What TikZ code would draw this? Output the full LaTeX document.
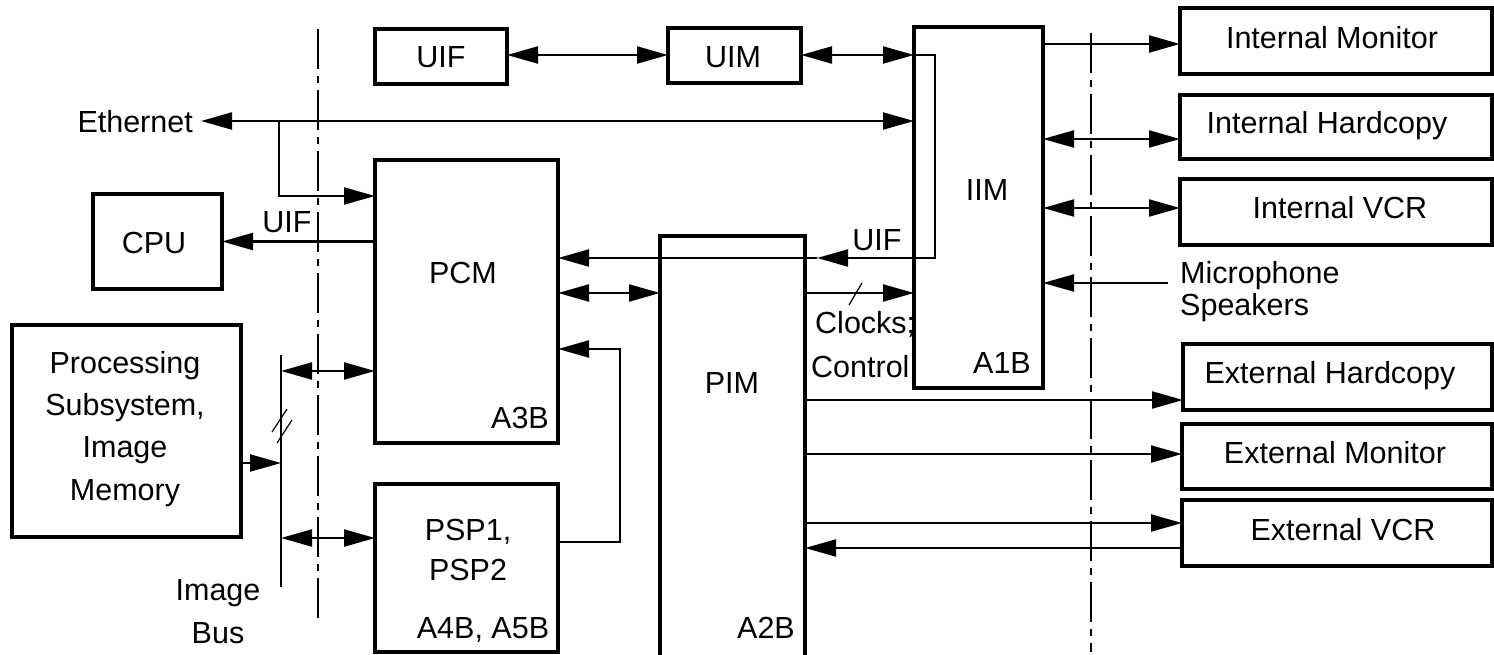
\documentclass[tikz,border=0pt]{standalone}
\usepackage{fontspec}
\setmainfont{Liberation Sans}
\usetikzlibrary{arrows.meta}
\begin{document}
\begin{tikzpicture}[x=1pt,y=-1pt,
  every node/.style={font=\fontsize{30.5}{36}\selectfont},
  box/.style={draw, line width=4.5pt, inner sep=0pt, outer sep=0pt},
  conn/.style={line width=2.2pt},
  arr/.style={conn, -{Triangle[length=31pt,width=17pt]}},
  darr/.style={conn, {Triangle[length=31pt,width=17pt]}-{Triangle[length=31pt,width=17pt]}},
  lbl/.style={inner sep=0pt, anchor=base},
  lbll/.style={inner sep=0pt, anchor=base west},
  cutline/.style={line width=2.4pt, dash pattern=on 40pt off 7pt on 7pt off 7pt},
  tick/.style={line width=1.2pt}]
\clip (0,0) rectangle (1494,654);
\fill[white] (0,0) rectangle (1494,654);

% helper levels
\foreach \yy in {44,55,139,196,208,293,349,371,400,454,463,523,538,542,548}{\coordinate (L\yy) at (0,\yy);}

% cut lines
\coordinate (dla) at (318,29); \coordinate (dlb) at (318,618);
\coordinate (dra) at (1091,33); \coordinate (drb) at (1091,652);
\draw[cutline] (dla) -- (dlb);
\draw[cutline] (dra) -- (drb);

% boxes
\node[box, minimum width=132pt, minimum height=55pt] (uifb) at (441,56.5) {};
\node[box, minimum width=133pt, minimum height=55pt] (uim) at (734.5,55.5) {};
\node[box, minimum width=129pt, minimum height=361pt] (iim) at (978.5,207.5) {};
\node[box, minimum width=312pt, minimum height=66pt] (intmon) at (1336,41) {};
\node[box, minimum width=312pt, minimum height=64pt] (inthc) at (1336,127) {};
\node[box, minimum width=312pt, minimum height=66pt] (intvcr) at (1336,212) {};
\node[box, minimum width=309pt, minimum height=66pt] (exthc) at (1337.5,377) {};
\node[box, minimum width=310pt, minimum height=65pt] (extmon) at (1337,456.5) {};
\node[box, minimum width=310pt, minimum height=66pt] (extvcr) at (1337,533) {};
\node[box, minimum width=183pt, minimum height=283pt] (pcm) at (466.5,301.5) {};
\node[box, minimum width=183pt, minimum height=168pt] (psp) at (466.5,568) {};
\node[box, minimum width=129pt, minimum height=95pt] (cpu) at (157.5,241.5) {};
\node[box, minimum width=229pt, minimum height=212pt] (proc) at (126.5,431) {};
\node[inner sep=0pt, outer sep=0pt, minimum width=145pt, minimum height=440pt] (pim) at (732.5,456) {};
\draw[line width=4.5pt] (pim.south west) -- (pim.north west) -- (pim.north east) -- (pim.south east);

% labels
\node[lbl] (tuif) at (441,67) {UIF};
\node[lbl] (tuim) at (733,67) {UIM};
\node[lbl] (tiim) at (987,200) {IIM};
\node[lbl] (ta1b) at (1002,373) {A1B};
\node[lbl] (tintmon) at (1332,48) {Internal Monitor};
\node[lbl] (tinthc) at (1327,133) {Internal Hardcopy};
\node[lbl] (tintvcr) at (1340,218) {Internal VCR};
\node[lbll] (tmic) at (1180,283) {Microphone};
\node[lbll] (tspk) at (1180,315) {Speakers};
\node[lbl] (texthc) at (1330,383) {External Hardcopy};
\node[lbl] (textmon) at (1335,463) {External Monitor};
\node[lbl] (textvcr) at (1343,540) {External VCR};
\node[inner sep=0pt, anchor=base east] (eth) at (193,132) {Ethernet};
\node[lbl] (tcpu) at (154,253) {CPU};
\node[lbl] (tuifc) at (287,232) {UIF};
\node[lbl] (tpcm) at (463,283) {PCM};
\node[lbl] (ta3b) at (520,428) {A3B};
\node[lbl] (tpsp1) at (468,540) {PSP1,};
\node[lbl] (tpsp2) at (468,580) {PSP2};
\node[lbl] (ta4b) at (483,638) {A4B, A5B};
\node[lbl] (tpim) at (732,393) {PIM};
\node[lbl] (ta2b) at (766,638) {A2B};
\node[lbl] (tuifp) at (877,250) {UIF};
\node[lbll] (tclk) at (815,333) {Clocks;};
\node[lbll] (tctl) at (811,377) {Control};
\node[lbl] (tp1) at (125,373) {Processing};
\node[lbl] (tp2) at (125,415) {Subsystem,};
\node[lbl] (tp3) at (125,457) {Image};
\node[lbl] (tp4) at (125,500) {Memory};
\node[lbl] (tib1) at (218,600) {Image};
\node[lbl] (tib2) at (218,643) {Bus};

% UIF / UIM / IIM
\draw[darr] (uifb.east |- L55) -- (uim.west |- L55);
\draw[darr] (uim.east |- L55) -- (iim.west |- L55);
\coordinate (ic1) at (935,55); \coordinate (ic2) at (935,258); \coordinate (uifmid) at (817,258);
\draw[arr] (iim.west |- L55) -- (ic1) -- (ic2) -- (uifmid);
\draw[arr] (uifmid) -- (pcm.east |- uifmid);

% Ethernet
\coordinate (ethtip) at (201,121);
\draw[darr] (ethtip) -- (iim.west |- ethtip);
\coordinate (ebr) at (279,121);
\draw[arr] (ebr) |- (pcm.west |- L196);

% CPU
\draw[arr] (pcm.west |- cpu.east) -- (cpu.east);

% PCM - PIM - IIM
\draw[darr] (pcm.east |- L293) -- (pim.west |- L293);
\draw[arr] (pim.east |- L293) -- (iim.west |- L293);
\coordinate (tk1) at (849,305); \coordinate (tk2) at (862,283);
\draw[tick] (tk1) -- (tk2);

% PSP -> PCM
\coordinate (pspx) at (620,0);
\draw[arr] (psp.east |- L542) -| (pspx |- L349) -- (pcm.east |- L349);

% Image bus
\coordinate (bustop) at (281,355); \coordinate (busbot) at (281,587);
\draw[conn] (bustop) -- (busbot);
\draw[arr] (proc.east |- L463) -- (bustop |- L463);
\draw[darr] (bustop |- L371) -- (pcm.west |- L371);
\draw[darr] (bustop |- L538) -- (psp.west |- L538);
\coordinate (s1a) at (272,432); \coordinate (s1b) at (287,409);
\coordinate (s2a) at (277,443); \coordinate (s2b) at (292,420);
\draw[tick] (s1a) -- (s1b);
\draw[tick] (s2a) -- (s2b);

% IIM right side
\draw[arr] (iim.east |- L44) -- (intmon.west |- L44);
\draw[darr] (iim.east |- L139) -- (inthc.west |- L139);
\draw[darr] (iim.east |- L208) -- (intvcr.west |- L208);
\coordinate (mic) at (1168,283);
\draw[arr] (mic) -- (iim.east |- mic);

% PIM right side
\draw[arr] (pim.east |- L400) -- (exthc.west |- L400);
\draw[arr] (pim.east |- L454) -- (extmon.west |- L454);
\draw[arr] (pim.east |- L523) -- (extvcr.west |- L523);
\draw[arr] (extvcr.west |- L548) -- (pim.east |- L548);
\end{tikzpicture}
\end{document}
